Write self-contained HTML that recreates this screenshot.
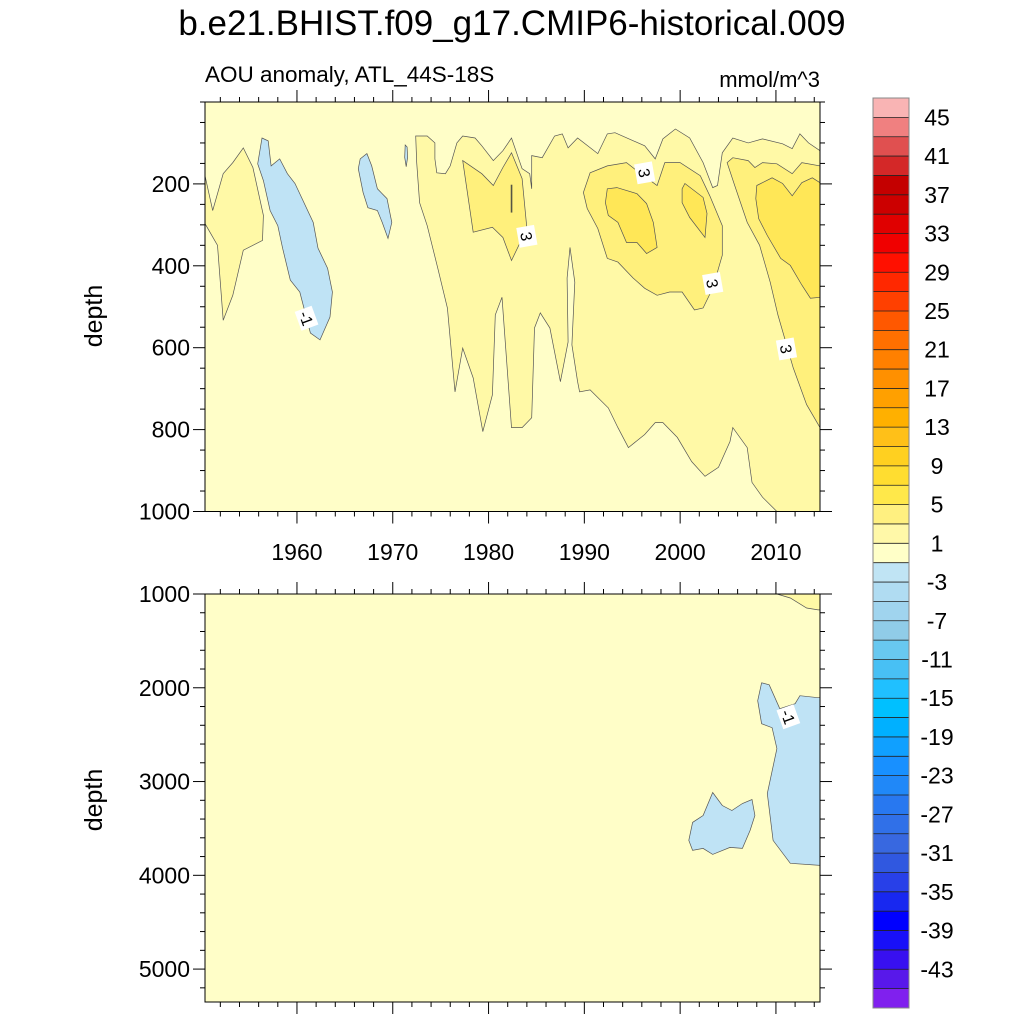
<!DOCTYPE html>
<html><head><meta charset="utf-8"><style>
html,body{margin:0;padding:0;background:#fff;width:1024px;height:1024px;overflow:hidden}
svg{display:block;font-family:"Liberation Sans",sans-serif}
</style></head><body>
<svg id="chart" width="1024" height="1024" viewBox="0 0 1024 1024">
<text x="512" y="35" text-anchor="middle" font-size="35">b.e21.BHIST.f09_g17.CMIP6-historical.009</text>
<text x="205" y="82" font-size="22.5">AOU anomaly, ATL_44S-18S</text>
<text x="820" y="87" font-size="22" text-anchor="end">mmol/m^3</text>
<text transform="translate(102,316) rotate(-90)" text-anchor="middle" font-size="25">depth</text>
<text transform="translate(102,800) rotate(-90)" text-anchor="middle" font-size="25">depth</text>
<g id="top"></g>
<g id="bot"></g>
<g id="cbar"></g>
</svg>
<script>
// ---- data ----
const xTicks = [1960, 1970, 1980, 1990, 2000, 2010];
const topDepthTicks = [200, 400, 600, 800, 1000];
const botDepthTicks = [1000, 2000, 3000, 4000, 5000];
const levels = [-45,-43,-41,-39,-37,-35,-33,-31,-29,-27,-25,-23,-21,-19,-17,-15,-13,-11,-9,-7,-5,-3,-1,1,3,5,7,9,11,13,15,17,19,21,23,25,27,29,31,33,35,37,39,41,43,45];
const cbLabels = [45,41,37,33,29,25,21,17,13,9,5,1,-3,-7,-11,-15,-19,-23,-27,-31,-35,-39,-43];
const cbColors = ["#8020ee","#5818ea","#3810f0","#1810f8","#0000ff","#1828f0","#2840e8","#3058e0","#3868e0","#3070e8","#2878f0","#2088f8","#1890ff","#10a0ff","#00b0ff","#00c0ff","#20c0ff","#48c0f4","#68c8f0","#90cce8","#a0d4ee","#b0dcf2","#c0e4f4","#ffffc8","#fff8a8","#fff080","#ffe84a","#ffdd30","#ffd020","#ffc018","#ffb000","#ffa000","#ff9000","#ff8000","#ff7000","#ff5800","#ff4000","#ff2800","#ff1000","#f00000","#e00000","#cc0000","#c40000","#d42828","#e05050","#f08080","#f9b4b4"];

const topLevel1 = [[1972.4,83],[1973.6,83],[1974.4,100],[1974.4,139],[1974.6,173],[1975.5,175],[1976.0,156],[1976.7,100],[1977.3,83],[1978.6,88],[1979.3,107],[1980.5,143],[1981.5,119],[1982.4,88],[1983.5,163],[1984.3,175],[1984.5,212],[1984.5,131],[1985.6,136],[1986.9,83],[1987.7,78],[1988.3,112],[1989.3,88],[1991.4,126],[1992.4,78],[1993.2,75],[1996.3,107],[1997.4,139],[1998.2,90],[1999.5,66],[2001.0,88],[2002.4,148],[2003.4,209],[2003.9,204],[2004.4,124],[2005.5,88],[2007.1,100],[2008.6,90],[2010.7,102],[2011.7,114],[2012.5,78],[2013.4,100],[2014.6,119],[2014.6,1000],[2010.1,1000],[2008.6,965],[2007.5,929],[2007.0,844],[2005.5,795],[2005.2,829],[2004.0,892],[2002.6,914],[2001.2,878],[1999.7,819],[1998.2,783],[1997.4,783],[1996.3,812],[1994.6,844],[1993.5,795],[1992.5,747],[1990.6,703],[1989.5,708],[1989.3,683],[1988.7,593],[1989.0,440],[1988.5,355],[1988.2,430],[1988.3,586],[1987.5,683],[1986.4,552],[1985.4,515],[1984.8,552],[1984.5,771],[1983.5,795],[1982.4,795],[1981.4,477],[1980.7,520],[1980.4,715],[1979.4,805],[1978.4,674],[1977.3,601],[1976.5,708],[1975.7,503],[1974.7,406],[1973.6,302],[1972.8,246],[1972.5,148]];
const topLevel1b = [[1950.4,180],[1951.2,265],[1952.3,175],[1953.3,148],[1954.4,112],[1955.4,160],[1956.5,277],[1956.4,338],[1954.4,362],[1953.3,472],[1952.3,533],[1951.7,350],[1950.4,297]];
const topLevel3a = [[1977.3,143],[1979.3,175],[1980.5,204],[1981.5,160],[1982.4,124],[1983.5,187],[1984.0,309],[1982.4,387],[1981.5,331],[1980.4,306],[1978.4,318]];
const topLevel3b = [[1989.9,221],[1990.6,173],[1992.4,156],[1994.4,148],[1995.5,168],[1997.6,204],[1998.4,148],[2000.0,148],[2002.1,180],[2003.1,229],[2004.4,302],[2004.4,374],[2003.4,455],[2002.4,503],[2001.5,508],[2000.2,464],[1998.9,464],[1997.6,472],[1996.3,455],[1995.1,430],[1993.5,391],[1992.4,382],[1991.4,309],[1990.3,260]];
const topLevel3c = [[2004.9,148],[2005.5,136],[2007.1,143],[2007.8,160],[2008.6,148],[2010.1,151],[2011.7,175],[2012.7,148],[2014.6,156],[2014.6,795],[2013.2,739],[2011.8,649],[2010.2,520],[2009.4,440],[2008.3,350],[2007.0,294],[2005.7,204]];
const topLevel5a = [[1992.4,212],[1993.4,209],[1995.5,224],[1996.5,248],[1997.2,294],[1997.6,355],[1996.5,370],[1995.5,343],[1994.4,343],[1993.5,294],[1992.5,277],[1992.2,246]];
const topLevel5b = [[2000.5,199],[2002.4,233],[2002.8,272],[2002.6,331],[2001.0,282],[2000.2,246],[2000.2,212]];
const topLevel5c = [[2008.0,204],[2009.6,185],[2010.7,199],[2011.7,229],[2012.7,197],[2013.8,185],[2014.6,197],[2014.6,477],[2013.6,479],[2012.7,447],[2011.5,399],[2010.5,382],[2009.1,326],[2008.2,285],[2007.9,236]];
const topNeg1a = [[1956.35,88],[1957.0,95],[1957.3,156],[1958.2,139],[1959.0,175],[1959.8,199],[1961.7,294],[1962.2,357],[1963.2,406],[1963.7,464],[1963.45,525],[1962.4,581],[1961.4,564],[1960.3,464],[1959.3,435],[1958.5,357],[1958.0,302],[1957.2,265],[1956.5,192],[1955.9,151]];
const topNeg1b = [[1966.6,139],[1967.3,126],[1967.8,156],[1968.4,212],[1969.4,236],[1969.9,294],[1969.5,333],[1968.9,294],[1968.4,265],[1967.4,258],[1966.9,221],[1966.4,163]];
const topNeg1c = [[1971.3,105],[1971.5,110],[1971.55,135],[1971.4,158],[1971.25,135]];
const topLabels = [[1996.3,173,"3"],[1984.0,328,"3"],[2003.4,443,"3"],[2011.1,603,"3"],[1961.0,528,"-1"]];

const botLevel1 = [[2010.1,1000],[2011.5,1043],[2013.2,1149],[2014.4,1170],[2014.6,1170],[2014.6,1000]];
const botNeg1a = [[2008.5,1947],[2009.3,1968],[2010.4,2223],[2012.0,2170],[2012.5,2085],[2014.4,2106],[2014.6,2106],[2014.6,3894],[2011.5,3872],[2009.7,3628],[2009.1,3128],[2010.1,2649],[2009.6,2426],[2008.5,2383],[2008.1,2138]];
const botNeg1b = [[2003.4,3117],[2004.4,3255],[2005.4,3309],[2006.5,3234],[2007.5,3191],[2007.8,3362],[2007.3,3521],[2006.5,3713],[2005.2,3702],[2003.4,3777],[2002.4,3713],[2001.3,3734],[2000.9,3628],[2001.3,3436],[2002.4,3362]];
const botLabels = [[2011.3,2309,"-1"]];

// ---- axes ----
const X0=205, X1=820;
const xMin=1950.4, xMax=2014.6;
const xs = v => X0 + (v-xMin)/(xMax-xMin)*(X1-X0);
const T0=102, T1=511.5, B0=594, B1=1002;
const ysTop = d => T0 + d/1000*(T1-T0);
const ysBot = d => B0 + (d-1000)/(5351-1000)*(B1-B0);
const NS="http://www.w3.org/2000/svg";
function mk(tag, attrs, parent){const e=document.createElementNS(NS,tag);for(const k in attrs)e.setAttribute(k,attrs[k]);parent.appendChild(e);return e;}

const LEVCOL = {bg:"#fffec8", l1:"#fff9a6", l3:"#fff07c", l5:"#ffe757", neg:"#bfe3f5"};

function poly(g, pts, ys, fill, name){
  const d = pts.map(p=>xs(p[0]).toFixed(1)+","+ys(p[1]).toFixed(1)).join(" ");
  const e = mk("polygon",{points:d, fill:fill, stroke:"#555", "stroke-width":"0.7"}, g);
  
  
}
function labels(g, arr, ys){
  arr.forEach(l=>{
    const x=xs(l[0]), y=ys(l[1]);
    const grp = mk("g",{transform:`translate(${x},${y}) rotate(${l[2]==="-1"?70:80})`}, g);
    
    
    mk("rect",{x:-10,y:-9,width:20,height:18,fill:"#fff"},grp);
    const t=mk("text",{x:0,y:6,"text-anchor":"middle","font-size":"16"},grp); t.textContent=l[2];
  });
}
function panel(g, Y0, Y1){
  const bg = mk("rect",{x:X0,y:Y0,width:X1-X0,height:Y1-Y0,fill:LEVCOL.bg},g);
  
  
}
function axes(g, ys, Y0, Y1, depthTicks, minorStep, dMin, dMax, showX){
  const ax = mk("g",{stroke:"#000","stroke-width":"1"},g);
  
  
  mk("rect",{x:X0,y:Y0,width:X1-X0,height:Y1-Y0,fill:"none",stroke:"#000","stroke-width":"1"},ax);
  for(let yr=1952; yr<=2014; yr+=2){
    const x=xs(yr), L = (yr%10===0)?12:5;
    mk("line",{x1:x,x2:x,y1:Y0,y2:Y0-L},ax);
    mk("line",{x1:x,x2:x,y1:Y1,y2:Y1+L},ax);
  }
  for(let d=Math.ceil(dMin/minorStep)*minorStep; d<=dMax; d+=minorStep){
    const y=ys(d); if(y<Y0-0.5||y>Y1+0.5) continue;
    const L = depthTicks.includes(d)?12:5;
    mk("line",{x1:X0,x2:X0-L,y1:y,y2:y},ax);
    mk("line",{x1:X1,x2:X1+L,y1:y,y2:y},ax);
  }
  depthTicks.forEach(d=>{
    const t=mk("text",{x:X0-15,y:ys(d)+8,"text-anchor":"end","font-size":"23"},g);
    t.textContent=d;
    
    
  });
  if(showX) xTicks.forEach(yr=>{
    const t=mk("text",{x:xs(yr),y:560,"text-anchor":"middle","font-size":"23"},g);
    t.textContent=yr;
    
    
  });
}
const gt=document.getElementById("top");
panel(gt, T0, T1);
poly(gt, topLevel1, ysTop, LEVCOL.l1, "contour-1-main");
poly(gt, topLevel1b, ysTop, LEVCOL.l1, "contour-1-left");
poly(gt, topLevel3a, ysTop, LEVCOL.l3, "contour-3-1980");
poly(gt, topLevel3b, ysTop, LEVCOL.l3, "contour-3-1995");
poly(gt, topLevel3c, ysTop, LEVCOL.l3, "contour-3-2010");
poly(gt, topLevel5a, ysTop, LEVCOL.l5, "contour-5-1995");
poly(gt, topLevel5b, ysTop, LEVCOL.l5, "contour-5-2001");
poly(gt, topLevel5c, ysTop, LEVCOL.l5, "contour-5-2011");
poly(gt, topNeg1a, ysTop, LEVCOL.neg, "contour-neg1-1960");
poly(gt, topNeg1b, ysTop, LEVCOL.neg, "contour-neg1-1968");
poly(gt, topNeg1c, ysTop, LEVCOL.neg, "contour-neg1-1971");
const dl = mk("line",{x1:xs(1982.4),x2:xs(1982.4),y1:ysTop(202),y2:ysTop(270),stroke:"#554","stroke-width":"1.6"},gt);


labels(gt, topLabels, ysTop);
axes(gt, ysTop, T0, T1, topDepthTicks, 50, 0, 1000, true);

const gb=document.getElementById("bot");
panel(gb, B0, B1);
poly(gb, botLevel1, ysBot, LEVCOL.l1, "contour-1-deep");
poly(gb, botNeg1a, ysBot, LEVCOL.neg, "contour-neg1-deep-right");
poly(gb, botNeg1b, ysBot, LEVCOL.neg, "contour-neg1-deep-left");
labels(gb, botLabels, ysBot);
axes(gb, ysBot, B0, B1, botDepthTicks, 200, 1000, 5351, false);

// colorbar
const gc=document.getElementById("cbar");
const CB0=98, CB1=1008, CX=873, CW=36;
const n=cbColors.length, h=(CB1-CB0)/n;
for(let i=0;i<n;i++){
  const r=mk("rect",{x:CX,y:CB1-(i+1)*h,width:CW,height:h+0.3,fill:cbColors[i],stroke:"none"},gc);
  
  
}
for(let i=1;i<n;i++){
  mk("line",{x1:CX,x2:CX+CW,y1:CB1-i*h,y2:CB1-i*h,stroke:"#222","stroke-width":"0.8"},gc);
}
mk("rect",{x:CX,y:CB0,width:CW,height:CB1-CB0,fill:"none",stroke:"#888","stroke-width":"1"},gc);
const cbY = v => CB1 - (levels.indexOf(v)+1)*h;
cbLabels.forEach(v=>{
  const t=mk("text",{x:937,y:cbY(v)+8,"text-anchor":"middle","font-size":"23"},gc);
  t.textContent=v;
  
  
});
</script>
</body></html>
